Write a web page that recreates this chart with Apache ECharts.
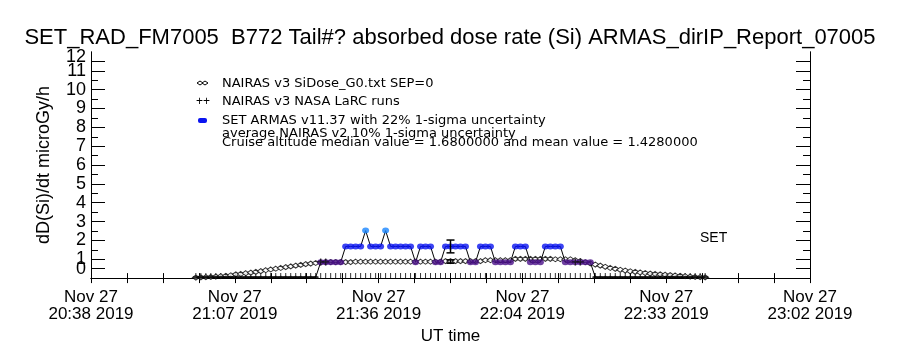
<!DOCTYPE html>
<html>
<head>
<meta charset="utf-8">
<script src="https://cdn.jsdelivr.net/npm/echarts@6/dist/echarts.min.js"></script>
<style>
  html, body { margin: 0; padding: 0; background: #fff; }
  #chart { width: 900px; height: 350px; }
</style>
</head>
<body>
<div id="chart"></div>
<script>
// x = minutes after 20:38 UT, Nov 27 2019
var startHour = 20, startMinute = 38;
var xLabelMin = [0, 28.8, 57.6, 86.4, 115.2, 144];
var xTickMin = [0, 7.2, 14.4, 21.6, 28.8, 36, 43.2, 50.4, 57.6, 64.8, 72, 79.2, 86.4, 93.6, 100.8, 108, 115.2, 122.4, 129.6, 136.8, 144];

// y tick labels as IDL drew them ("0" and "12" pulled inward)
var yLabelPos = [1, 2, 3, 4, 5, 6, 7, 8, 9, 10, 11];
var yLabelText = ['1', '2', '3', '4', '5', '6', '7', '8', '9', '10', '11'];
var yEndLabelPos = [0.5, 11.75];
var yEndLabelText = ['0', '12'];
var yMajorTicks = [0.5, 1, 2, 3, 4, 5, 6, 7, 8, 9, 10, 11, 11.5];
var yMinorTicks = [1.5, 2.5, 3.5, 4.5, 5.5, 6.5, 7.5, 8.5, 9.5, 10.5];

var minutes = [21, 22, 23, 24, 25, 26, 27, 28, 29, 30, 31, 32, 33, 34, 35, 36, 37, 38, 39, 40,
  41, 42, 43, 44, 45, 46, 47, 48, 49, 50, 51, 52, 53, 54, 55, 56, 57, 58, 59, 60,
  61, 62, 63, 64, 65, 66, 67, 68, 69, 70, 71, 72, 73, 74, 75, 76, 77, 78, 79, 80,
  81, 82, 83, 84, 85, 86, 87, 88, 89, 90, 91, 92, 93, 94, 95, 96, 97, 98, 99, 100,
  101, 102, 103, 104, 105, 106, 107, 108, 109, 110, 111, 112, 113, 114, 115, 116, 117, 118, 119, 120,
  121, 122, 123];

// SET ARMAS dose rate (microGy/h)
var armas = [0.05, 0.05, 0.05, 0.05, 0.05, 0.05, 0.05, 0.05, 0.05, 0.05, 0.05, 0.05, 0.05, 0.05, 0.05, 0.05, 0.05, 0.05, 0.05, 0.05,
  0.05, 0.05, 0.05, 0.05, 0.05, 0.84, 0.84, 0.84, 0.84, 0.84, 1.68, 1.68, 1.68, 1.68, 2.52, 1.68, 1.68, 1.68, 2.52, 1.68,
  1.68, 1.68, 1.68, 1.68, 0.84, 1.68, 1.68, 1.68, 0.84, 0.84, 1.68, 1.68, 1.68, 1.68, 1.68, 0.84, 0.84, 1.68, 1.68, 1.68,
  0.84, 0.84, 0.84, 0.84, 1.68, 1.68, 1.68, 0.84, 0.84, 0.84, 1.68, 1.68, 1.68, 1.68, 0.84, 0.84, 0.84, 0.84, 0.84, 0.84,
  0.05, 0.05, 0.05, 0.05, 0.05, 0.05, 0.05, 0.05, 0.05, 0.05, 0.05, 0.05, 0.05, 0.05, 0.05, 0.05, 0.05, 0.05, 0.05, 0.05,
  0.05, 0.05, 0.05];

// NAIRAS v3 SiDose_G0 (microGy/h)
var nairas = [0.03, 0.04, 0.05, 0.06, 0.08, 0.10, 0.12, 0.15, 0.20, 0.22, 0.26, 0.29, 0.33, 0.37, 0.42, 0.46, 0.50, 0.54, 0.58, 0.62,
  0.66, 0.70, 0.74, 0.77, 0.80, 0.83, 0.85, 0.85, 0.85, 0.85, 0.85, 0.85, 0.87, 0.87, 0.87, 0.87, 0.87, 0.87, 0.87, 0.87,
  0.87, 0.87, 0.87, 0.87, 0.87, 0.87, 0.87, 0.87, 0.87, 0.87, 0.90, 0.90, 0.90, 0.90, 0.90, 0.90, 0.90, 0.90, 0.95, 0.95,
  0.95, 0.95, 0.95, 0.95, 1.02, 1.02, 1.02, 1.02, 1.02, 1.02, 1.02, 1.02, 1.00, 1.00, 1.00, 1.00, 0.95, 0.90, 0.84, 0.78,
  0.72, 0.66, 0.60, 0.54, 0.49, 0.44, 0.40, 0.36, 0.33, 0.30, 0.27, 0.24, 0.22, 0.20, 0.18, 0.16, 0.14, 0.12, 0.10, 0.08,
  0.06, 0.05, 0.04];

// NAIRAS v3 NASA LaRC runs
var larcMin = [46, 47, 97, 98];
var larcVal = [0.86, 0.86, 0.86, 0.86];

// error bars: ARMAS 1-sigma and NAIRAS v2 10%
var errMin = [72, 72];
var errLo = [1.34, 0.79];
var errHi = [2.02, 0.97];

function zip(xs, ys) {
  return xs.map(function (x, i) { return [x, ys[i]]; });
}

function clockLabel(v) {
  var t = Math.round(startHour * 60 + startMinute + v);
  var h = Math.floor(t / 60), m = t % 60;
  return 'Nov 27\n' + h + ':' + (m < 10 ? '0' + m : m) + ' 2019';
}

function armasColor(p) {
  var v = p.value[1];
  if (v > 2) return '#1a86ff';
  if (v > 1.2) return '#0a14f0';
  if (v > 0.3) return '#4a1088';
  return '#000';
}

function armasSize(v) {
  return v[1] > 0.3 ? [7, 6] : [6, 3];
}

var font = 'Liberation Sans';
var myChart = echarts.init(document.getElementById('chart'));

var yBase = {
  type: 'value', min: 0, max: 12,
  splitLine: { show: false },
  axisLine: { show: true, lineStyle: { color: '#000', width: 1 } }
};
var yLabelStyle = { margin: 5, fontFamily: font, fontSize: 18, color: '#000', hideOverlap: false };

var option = {
  animation: false,
  backgroundColor: '#fff',
  title: {
    text: 'SET_RAD_FM7005  B772 Tail#? absorbed dose rate (Si) ARMAS_dirIP_Report_07005',
    left: 'center', top: 22,
    textStyle: { fontFamily: font, fontSize: 22, fontWeight: 'normal', color: '#000' }
  },
  grid: { left: 91, right: 90, top: 52, bottom: 71 },
  xAxis: [{
    type: 'value', min: 0, max: 144, position: 'bottom',
    name: 'UT time', nameLocation: 'middle', nameGap: 46,
    nameTextStyle: { fontFamily: font, fontSize: 17, color: '#000' },
    splitLine: { show: false },
    axisLine: { lineStyle: { color: '#000' } },
    axisTick: { inside: true, length: 5, customValues: xTickMin, lineStyle: { color: '#000' } },
    axisLabel: {
      customValues: xLabelMin, formatter: clockLabel, margin: 11,
      fontFamily: font, fontSize: 17, lineHeight: 17, color: '#000'
    }
  }, {
    type: 'value', min: 0, max: 144, position: 'top',
    splitLine: { show: false },
    axisLine: { lineStyle: { color: '#000' } },
    axisTick: { inside: true, length: 5, customValues: xTickMin, lineStyle: { color: '#000' } },
    axisLabel: { show: false }
  }],
  yAxis: [
    Object.assign({}, yBase, {
      position: 'left',
      name: 'dD(Si)/dt microGy/h', nameLocation: 'middle', nameGap: 38,
      nameTextStyle: { fontFamily: font, fontSize: 18, color: '#000' },
      axisTick: { inside: true, length: 14, customValues: yMajorTicks, lineStyle: { color: '#000' } },
      axisLabel: Object.assign({}, yLabelStyle, {
        customValues: yLabelPos,
        formatter: function (v) {
          var i = yLabelPos.indexOf(v);
          return i < 0 ? '' : yLabelText[i];
        }
      })
    }),
    Object.assign({}, yBase, {
      position: 'left',
      axisTick: { inside: true, length: 7, customValues: yMinorTicks, lineStyle: { color: '#000' } },
      axisLabel: Object.assign({}, yLabelStyle, {
        customValues: yEndLabelPos,
        formatter: function (v) {
          var i = yEndLabelPos.indexOf(v);
          return i < 0 ? '' : yEndLabelText[i];
        }
      })
    }),
    Object.assign({}, yBase, {
      position: 'right',
      axisTick: { inside: true, length: 14, customValues: yMajorTicks, lineStyle: { color: '#000' } },
      axisLabel: { show: false }
    }),
    Object.assign({}, yBase, {
      position: 'right',
      axisTick: { inside: true, length: 7, customValues: yMinorTicks, lineStyle: { color: '#000' } },
      axisLabel: { show: false }
    })
  ],
  series: [
    {
      name: 'base ticks', type: 'scatter', z: 1, silent: true, clip: false,
      symbol: 'rect', symbolSize: [1, 5], symbolOffset: [0, -2.5],
      itemStyle: { color: '#000' },
      data: minutes.map(function (m) { return [m, 0]; })
    },
    {
      name: 'NAIRAS v3 SiDose_G0.txt SEP=0', type: 'scatter', z: 2,
      symbol: 'diamond', symbolSize: [7, 5],
      itemStyle: { color: '#fff', borderColor: '#000', borderWidth: 1 },
      data: zip(minutes, nairas)
    },
    {
      name: 'ARMAS line', type: 'line', z: 3, showSymbol: false,
      lineStyle: { color: '#000', width: 1 },
      data: zip(minutes, armas)
    },
    {
      name: 'SET ARMAS', type: 'scatter', z: 4,
      symbol: 'circle', symbolSize: armasSize,
      itemStyle: { color: armasColor },
      data: zip(minutes, armas)
    },
    {
      name: 'NAIRAS v3 NASA LaRC runs', type: 'scatter', z: 5,
      symbol: 'path://M4,0H6V4H10V6H6V10H4V6H0V4H4Z', symbolSize: 7,
      itemStyle: { color: '#111' },
      data: zip(larcMin, larcVal)
    },
    {
      name: 'error bars', type: 'custom', z: 6,
      renderItem: function (params, api) {
        var lo = api.coord([api.value(0), api.value(1)]);
        var hi = api.coord([api.value(0), api.value(2)]);
        var w = 4, st = { stroke: '#000', lineWidth: 1.5 };
        return {
          type: 'group', children: [
            { type: 'line', shape: { x1: lo[0], y1: lo[1], x2: hi[0], y2: hi[1] }, style: st },
            { type: 'line', shape: { x1: lo[0] - w, y1: lo[1], x2: lo[0] + w, y2: lo[1] }, style: st },
            { type: 'line', shape: { x1: hi[0] - w, y1: hi[1], x2: hi[0] + w, y2: hi[1] }, style: st }
          ]
        };
      },
      data: errMin.map(function (m, i) { return [m, errLo[i], errHi[i]]; })
    }
  ],
  graphic: [
    { type: 'polygon', shape: { points: [[197, 83], [200, 81], [203, 83], [200, 85]] }, style: { fill: '#fff', stroke: '#000', lineWidth: 1 } },
    { type: 'polygon', shape: { points: [[202, 83], [205, 81], [208, 83], [205, 85]] }, style: { fill: '#fff', stroke: '#000', lineWidth: 1 } },
    { type: 'text', left: 196, top: 96, style: { text: '++', font: '12px "Liberation Sans"', fill: '#000' } },
    { type: 'rect', shape: { x: 198, y: 118, width: 9, height: 5, r: 2 }, style: { fill: '#0a14f0' } },
    { type: 'text', left: 222, top: 77, style: { text: 'NAIRAS v3 SiDose_G0.txt SEP=0', font: '13px "DejaVu Sans"', fill: '#000' } },
    { type: 'text', left: 222, top: 95, style: { text: 'NAIRAS v3 NASA LaRC runs', font: '13px "DejaVu Sans"', fill: '#000' } },
    { type: 'text', left: 222, top: 114, style: { text: 'SET ARMAS v11.37 with 22% 1-sigma uncertainty', font: '13px "DejaVu Sans"', fill: '#000' } },
    { type: 'text', left: 222, top: 127, style: { text: 'average NAIRAS v2 10% 1-sigma uncertainty', font: '13px "DejaVu Sans"', fill: '#000' } },
    { type: 'text', left: 222, top: 136, style: { text: 'Cruise altitude median value = 1.6800000 and mean value = 1.4280000', font: '13px "DejaVu Sans"', fill: '#000' } },
    { type: 'text', left: 700, top: 231, style: { text: 'SET', font: '14px "Liberation Sans"', fill: '#000' } }
  ]
};

myChart.setOption(option);
window.addEventListener('resize', function () { myChart.resize(); });
</script>
</body>
</html>
